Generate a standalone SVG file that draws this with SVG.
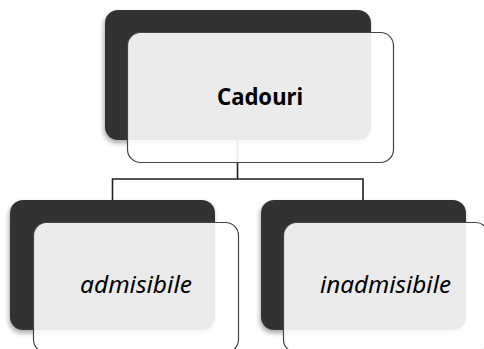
<svg xmlns="http://www.w3.org/2000/svg" width="484" height="349" viewBox="0 0 484 349">
<defs>
<filter id="sh" x="-10%" y="-10%" width="125%" height="130%">
<feDropShadow dx="-1" dy="3" stdDeviation="2.5" flood-color="#000" flood-opacity="0.35"/>
</filter>
</defs>
<style>
.dark{fill:#333333;}
.card{fill:#ffffff;fill-opacity:0.9;stroke:#444444;stroke-width:1.2;}
.conn{fill:none;stroke:#222222;stroke-width:1.6;}
.t{font-family:"Noto Sans","Open Sans",sans-serif;fill:#000;text-anchor:middle;}
</style>
<g id="connectors">
<path class="conn" d="M237.5 140 V179 M112.5 179 H363 M112.5 178.2 V200 M363 178.2 V200"/>
</g>
<g id="node-cadouri">
<rect class="dark" x="105" y="10" width="266" height="130" rx="13" filter="url(#sh)"/>
<rect class="card" x="127.5" y="32.5" width="266" height="130" rx="13"/>
<text class="t" x="260" y="105" font-size="24" font-weight="bold" textLength="86" lengthAdjust="spacingAndGlyphs">Cadouri</text>
</g>
<g id="node-admisibile">
<rect class="dark" x="10" y="200" width="205" height="130" rx="13" filter="url(#sh)"/>
<rect class="card" x="33.5" y="222.5" width="205" height="130" rx="13"/>
<text class="t" x="136" y="293" font-size="23" font-style="italic" textLength="112" lengthAdjust="spacingAndGlyphs">admisibile</text>
</g>
<g id="node-inadmisibile">
<rect class="dark" x="261" y="200" width="205" height="130" rx="13" filter="url(#sh)"/>
<rect class="card" x="283.5" y="222.5" width="205" height="130" rx="13"/>
<text class="t" x="385.5" y="293" font-size="23" font-style="italic" textLength="131" lengthAdjust="spacingAndGlyphs">inadmisibile</text>
</g>
</svg>
